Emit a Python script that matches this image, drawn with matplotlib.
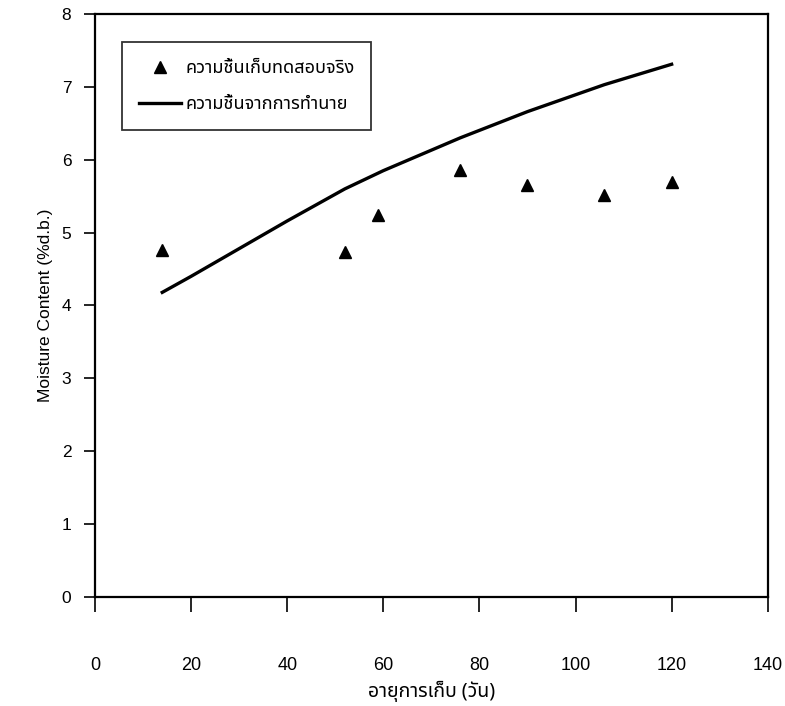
import matplotlib
matplotlib.use("Agg")
import matplotlib.pyplot as plt
from matplotlib import font_manager
from matplotlib.ft2font import FT2Font

# measured storage moisture (triangles)
days_test = [14, 52, 59, 76, 90, 106, 120]
mc_test = [4.76, 4.73, 5.24, 5.86, 5.65, 5.51, 5.69]

# predicted moisture (line)
days_pred = [14, 20, 30, 40, 52, 60, 76, 90, 106, 120]
mc_pred = [4.18, 4.40, 4.78, 5.16, 5.60, 5.85, 6.30, 6.66, 7.03, 7.31]

lbl_test = "ความชื้นเก็บทดสอบจริง"
lbl_pred = "ความชื้นจากการทำนาย"
xlab = "อายุการเก็บ (วัน)"
ylab = "Moisture Content (%d.b.)"


def find_thai_font():
    names = []
    for f in font_manager.findSystemFonts():
        try:
            cm = FT2Font(f).get_charmap()
        except Exception:
            continue
        if 0x0E01 in cm and 0x0E32 in cm:
            try:
                names.append(font_manager.FontProperties(fname=f).get_name())
            except Exception:
                pass
    pref = ["Tahoma", "Noto Sans Thai", "Noto Sans Thai UI", "Garuda", "Loma", "Norasi"]
    for p in pref:
        if p in names:
            return p
    return names[0] if names else "DejaVu Sans"


thai = find_thai_font()
plt.rcParams['font.family'] = [thai, 'Liberation Sans', 'DejaVu Sans']

fig = plt.figure(figsize=(7.85, 7.06), dpi=100)
ax = fig.add_axes([0.121, 0.1544, 0.857, 0.8258])

ax.plot(days_test, mc_test, linestyle='none', marker='^', color='black',
        markersize=8.5, label=lbl_test)
ax.plot(days_pred, mc_pred, color='black', linewidth=2.4, label=lbl_pred)

ax.set_xlim(0, 140)
ax.set_ylim(0, 8)
ax.set_xticks(range(0, 141, 20))
ax.set_yticks(range(0, 9))

for s in ax.spines.values():
    s.set_linewidth(1.6)

ax.tick_params(axis='y', direction='out', length=8, width=1.2, pad=9,
               labelsize=12.5)
ax.tick_params(axis='x', direction='out', length=11, width=1.2, pad=32,
               labelsize=13)
for t in ax.get_yticklabels():
    t.set_family(['Liberation Sans', 'DejaVu Sans'])
for t in ax.get_xticklabels():
    t.set_family(['Liberation Sans Narrow', 'Liberation Sans', 'DejaVu Sans'])

ax.set_ylabel(ylab, fontsize=12.5, family=['Liberation Sans', 'DejaVu Sans'],
              labelpad=6)
ax.set_xlabel(xlab, fontsize=14, labelpad=5)

leg = ax.legend(loc='upper left', bbox_to_anchor=(0.040, 0.952), fontsize=13,
                frameon=True, fancybox=False, edgecolor='black',
                handlelength=2.3, borderpad=0.95, labelspacing=1.0,
                handletextpad=0.25, borderaxespad=0)
leg.get_frame().set_linewidth(1.3)

fig.savefig("out.png", dpi=100, facecolor='white')
